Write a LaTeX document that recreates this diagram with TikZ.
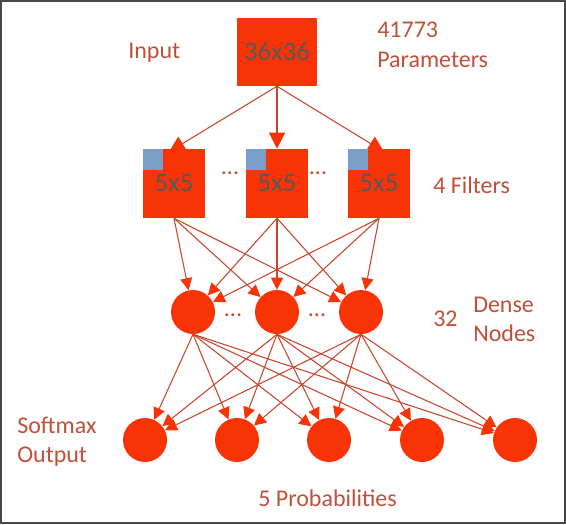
\documentclass[tikz,border=0pt]{standalone}
\usepackage{fontspec}
\setmainfont{Carlito}
\usetikzlibrary{arrows.meta,backgrounds}

\definecolor{boxred}{RGB}{248,52,6}
\definecolor{linered}{RGB}{200,70,46}
\definecolor{textred}{RGB}{192,80,58}
\definecolor{boxgray}{RGB}{88,88,88}
\definecolor{filtblue}{RGB}{123,158,201}
\definecolor{framegray}{RGB}{72,72,72}

\begin{document}
\begin{tikzpicture}[x=0.75pt, y=-0.75pt,
	layerbox/.style={fill=boxred, inner sep=0pt, text=boxgray, font=\fontsize{20}{24}\selectfont},
	neuron/.style={circle, fill=boxred, inner sep=0pt, minimum size=33pt},
	labeltext/.style={text=textred, inner sep=0pt, font=\fontsize{18}{22}\selectfont},
	link/.style={draw=linered, line width=0.8pt, -{Triangle[length=9pt,width=9pt,color=boxred]}},
	biglink/.style={draw=linered, line width=0.8pt, -{Triangle[length=12pt,width=12pt,color=boxred]}}]
	%frame
	\useasboundingbox (0,0) rectangle (566,524);
	\draw[framegray, line width=1.5pt] (1,1) rectangle (565,523);
	%input
	\node[layerbox, minimum width=60pt, minimum height=51pt] (inp) at (277,52) {36x36};
	%filters
	\foreach \n/\x in {1/174,2/277,3/379}
	{
		\node[layerbox, minimum width=46.5pt, minimum height=51.75pt] (f\n) at (\x,183.5) {5x5};
		\fill[filtblue] (f\n.north west) rectangle ++(20,21);
	}
	%dense
	\foreach \n/\x in {1/193,2/277,3/361}
	\node[neuron] (d\n) at (\x,312) {};
	%output
	\foreach \n/\x in {1/145,2/237,3/329,4/422,5/515}
	\node[neuron] (o\n) at (\x,440) {};
	%dots
	\node[labeltext] (fdotsA) at (230,173) {...};
	\node[labeltext] (fdotsB) at (318,173) {...};
	\node[labeltext] (ddotsA) at (233,315) {...};
	\node[labeltext] (ddotsB) at (317,315) {...};
	%labels
	\node[labeltext, anchor=base west] (inputlbl) at (128,59) {Input};
	\node[labeltext, anchor=base west] (paramsA) at (377,38) {41773};
	\node[labeltext, anchor=base west] (paramsB) at (377,68) {Parameters};
	\node[labeltext, anchor=base west] (filterlbl) at (433,193) {4 Filters};
	\node[labeltext, anchor=base west] (denseA) at (433,326) {32};
	\node[labeltext, anchor=base west] (denseB) at (473,312) {Dense};
	\node[labeltext, anchor=base west] (denseC) at (473,341) {Nodes};
	\node[labeltext, anchor=base west] (outlblA) at (17,433) {Softmax};
	\node[labeltext, anchor=base west] (outlblB) at (17,462) {Output};
	\node[labeltext, anchor=base west] (problbl) at (258,506) {5 Probabilities};
	%connections
	\begin{scope}[on background layer]
		\draw[biglink, shorten >=-4.5pt] (inp.south) -- (f1.north);
		\draw[biglink] (inp.south) -- (f2.north);
		\draw[biglink, shorten >=-4.5pt] (inp.south) -- (f3.north);
		\foreach \i in {1,2,3}
		\foreach \j in {1,2,3}
		\draw[link] (f\i.south) -- (d\j);
		\foreach \i in {1,2,3}
		\foreach \j in {1,...,5}
		\draw[link] (d\i.south) -- (o\j);
	\end{scope}
\end{tikzpicture}
\end{document}
